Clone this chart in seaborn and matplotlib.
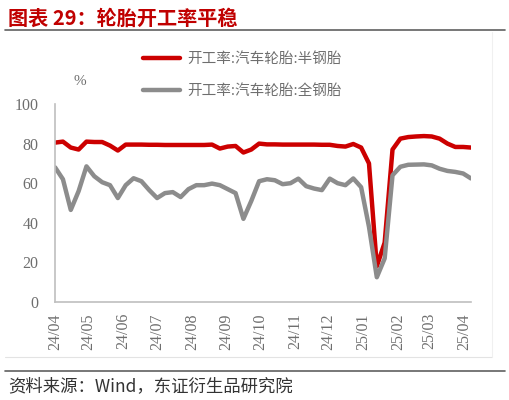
import pandas as pd
import matplotlib
matplotlib.use('Agg')
from matplotlib import pyplot as plt
from matplotlib.lines import Line2D
import seaborn as sns

# weekly utilisation rates, %
semi_steel = [80.5, 81, 78, 77, 81, 80.8, 80.8, 79, 76.5, 79.5,
              79.5, 79.5, 79.4, 79.4, 79.3, 79.3, 79.3, 79.3, 79.3, 79.3,
              79.5, 77.5, 78.5, 78.8, 75.5, 77, 80, 79.6, 79.6, 79.5,
              79.5, 79.5, 79.5, 79.5, 79.4, 79.4, 78.8, 78.5, 79.8, 78,
              70, 18, 30, 77, 82.5, 83.3, 83.6, 83.8, 83.6, 82.5,
              80, 78.3, 78.3, 78]
all_steel = [68, 62, 46.5, 56, 68.5, 63.5, 60.5, 59, 52.5, 59,
             62.5, 61, 56.5, 52.5, 55, 55.5, 53, 57, 59, 59,
             59.8, 59, 57, 55, 42, 51, 61, 62, 61.5, 59.5,
             60, 62.3, 58.5, 57.3, 56.5, 62.3, 60, 59, 62.4, 58,
             38, 12.5, 22, 64, 68.3, 69.3, 69.4, 69.5, 69, 67.3,
             66.2, 65.7, 64.9, 62.4]
series_names = ['开工率:汽车轮胎:半钢胎', '开工率:汽车轮胎:全钢胎']
tick_labels = ['24/04', '24/05', '24/06', '24/07', '24/08', '24/09', '24/10',
               '24/11', '24/12', '25/01', '25/02', '25/03', '25/04']

dates = pd.date_range('2024-04-01', periods=len(semi_steel), freq='7D')
tick_pos = pd.date_range('2024-04-01', periods=len(tick_labels), freq='MS')

sns.set_style('white')
plt.rcParams['font.family'] = ['Liberation Serif', 'Noto Sans CJK SC']
cjk = ['Noto Sans CJK SC', 'DejaVu Sans']

fig = plt.figure(figsize=(5.1, 4.0), dpi=100)
ax = fig.add_axes([0.108, 0.245, 0.8155, 0.495])

sns.lineplot(x=dates, y=semi_steel, ax=ax, color='#CC0000', linewidth=3.2,
             label=series_names[0], solid_capstyle='round', solid_joinstyle='round')
sns.lineplot(x=dates, y=all_steel, ax=ax, color='#8C8C8C', linewidth=3.2,
             label=series_names[1], solid_capstyle='round', solid_joinstyle='round')

ax.set_xlim(dates[0], dates[-1])
ax.set_ylim(0, 100)
ax.set_yticks([0, 20, 40, 60, 80, 100])
ax.set_xticks(tick_pos)
ax.set_xticklabels(tick_labels, rotation=90)
ax.tick_params(axis='both', direction='in', length=4, color='#BFBFBF',
               labelcolor='#6E6E6E', labelsize=11.5, width=1)
ax.tick_params(axis='x', pad=8)
ax.tick_params(axis='y', pad=12)
for s in ['top', 'right']:
    ax.spines[s].set_visible(False)
for s in ['left', 'bottom']:
    ax.spines[s].set_color('#BFBFBF')
    ax.spines[s].set_linewidth(1.2)
ax.set_xlabel('')
ax.set_ylabel('')

leg = ax.legend(loc='upper left', bbox_to_anchor=(0.255, 0.902),
                bbox_transform=fig.transFigure, frameon=False,
                prop={'family': cjk, 'size': 10.5}, handlelength=2.5,
                handletextpad=0.5, labelspacing=1.2)
for t in leg.get_texts():
    t.set_color('#6E6E6E')

fig.text(0.157, 0.797, '%', fontsize=11, color='#6E6E6E', ha='center', va='center')

fig.text(0.016, 0.955, '图表 29：轮胎开工率平稳', fontsize=14.5, fontweight='bold',
         color='#C00000', family=cjk, va='center')
fig.add_artist(Line2D([0.01, 0.99], [0.925, 0.925], color='#606060', linewidth=1.2))
fig.add_artist(Line2D([0.01, 0.965], [0.108, 0.108], color='#E3E3E3', linewidth=0.8))
fig.add_artist(Line2D([0.965, 0.965], [0.108, 0.92], color='#F0F0F0', linewidth=0.8))
fig.add_artist(Line2D([0.01, 0.99], [0.072, 0.072], color='#606060', linewidth=1.2))
fig.text(0.016, 0.035, '资料来源：Wind，东证衍生品研究院', fontsize=12.5,
         color='#333333', family=cjk, va='center')

fig.savefig('out.png', dpi=100)
